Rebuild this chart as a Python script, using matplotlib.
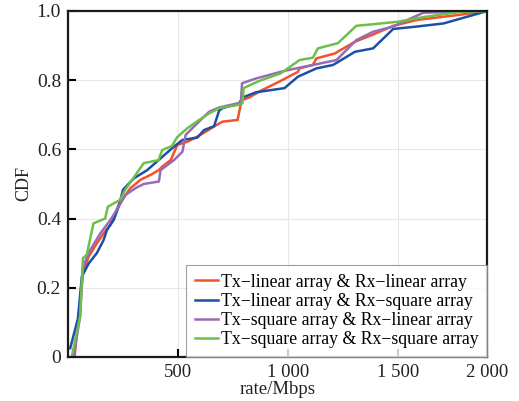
import matplotlib
matplotlib.use("Agg")
import matplotlib.pyplot as plt

plt.rcParams["font.family"] = ["Liberation Serif", "DejaVu Serif"]

# rate (Mbps) / CDF pairs
red_x = [30, 68, 94, 131, 162, 193, 230, 284, 330, 375, 413, 428, 467, 497, 543, 588,
         626, 664, 702, 771, 786, 794, 824, 878, 961, 1045, 1052, 1113, 1129, 1212,
         1304, 1387, 1478, 1585, 1768, 1906]
red_y = [0.0, 0.242, 0.29, 0.328, 0.357, 0.382, 0.439, 0.488, 0.512, 0.526, 0.54, 0.55,
         0.569, 0.613, 0.622, 0.637, 0.651, 0.666, 0.68, 0.685, 0.733, 0.743, 0.75,
         0.77, 0.796, 0.824, 0.834, 0.844, 0.863, 0.877, 0.911, 0.932, 0.957, 0.974,
         0.988, 1.0]

blue_x = [10, 45, 63, 94, 131, 162, 177, 208, 230, 250, 299, 360, 421, 482, 520, 588,
          619, 664, 687, 702, 778, 794, 855, 984, 1045, 1129, 1205, 1304, 1387, 1478,
          1585, 1707, 1906]
blue_y = [0.025, 0.11, 0.232, 0.27, 0.30, 0.338, 0.367, 0.396, 0.434, 0.483, 0.516,
          0.54, 0.574, 0.608, 0.627, 0.634, 0.656, 0.667, 0.712, 0.719, 0.733, 0.75,
          0.765, 0.777, 0.81, 0.834, 0.844, 0.882, 0.892, 0.948, 0.955, 0.964, 1.0]

purple_x = [25, 55, 68, 101, 147, 193, 230, 261, 307, 345, 413, 421, 482, 520, 535,
            565, 611, 642, 687, 771, 786, 791, 855, 984, 1113, 1220, 1311, 1387, 1478,
            1615, 1906]
purple_y = [0.0, 0.116, 0.26, 0.309, 0.357, 0.396, 0.434, 0.468, 0.488, 0.50, 0.507,
            0.54, 0.569, 0.593, 0.642, 0.661, 0.69, 0.709, 0.721, 0.733, 0.736, 0.791,
            0.805, 0.827, 0.844, 0.858, 0.916, 0.94, 0.955, 0.995, 1.0]

green_x = [17, 55, 68, 85, 116, 169, 181, 237, 260, 344, 412, 428, 473, 496, 542, 565,
           596, 642, 687, 771, 793, 798, 862, 968, 1052, 1113, 1136, 1227, 1310, 1501,
           1622, 1780, 1906]
green_y = [0.0, 0.117, 0.285, 0.295, 0.386, 0.40, 0.434, 0.454, 0.483, 0.56, 0.569,
           0.598, 0.61, 0.635, 0.661, 0.671, 0.685, 0.704, 0.719, 0.728, 0.733, 0.777,
           0.796, 0.82, 0.858, 0.865, 0.892, 0.907, 0.957, 0.969, 0.983, 0.997, 1.0]

labels = ["Tx\u2212linear array & Rx\u2212linear array",
          "Tx\u2212linear array & Rx\u2212square array",
          "Tx\u2212square array & Rx\u2212linear array",
          "Tx\u2212square array & Rx\u2212square array"]
colors = ["#f4502a", "#1c4fa6", "#9a6ab8", "#6cc04a"]

x_ticks = [500, 1000, 1500, 1906]
x_ticklabels = ["500", "1 000", "1 500", "2 000"]
y_ticks = [0, 0.2, 0.4, 0.6, 0.8, 1.0]
y_ticklabels = ["0", "0.2", "0.4", "0.6", "0.8", "1.0"]

fig = plt.figure(figsize=(5.19, 4.01), dpi=100)
ax = fig.add_axes([0.131, 0.110, 0.808, 0.8626])

series = [(red_x, red_y), (blue_x, blue_y), (purple_x, purple_y), (green_x, green_y)]
for (xs, ys), c, lab in zip(series, colors, labels):
    ax.plot(xs, ys, color=c, lw=1.8, label=lab)

ax.set_xlim(0, 1906)
ax.set_ylim(0, 1.0)
ax.set_xticks(x_ticks)
ax.set_xticklabels(x_ticklabels, fontsize=13.5, color="#222222")
ax.set_yticks(y_ticks)
ax.set_yticklabels(y_ticklabels, fontsize=14, color="#222222")
ax.tick_params(direction="in", length=6, width=1.5, pad=5)
ax.grid(True, color="#e6e6e6", lw=0.8)
ax.set_axisbelow(True)
for s in ax.spines.values():
    s.set_linewidth(1.6)
    s.set_color("#1a1a1a")

ax.set_xlabel("rate/Mbps", fontsize=13.5, color="#222222", labelpad=0)
ax.set_ylabel("CDF", fontsize=13, color="#222222", labelpad=3)

leg = ax.legend(loc="lower right", fontsize=12.8, frameon=True, fancybox=False,
                borderaxespad=0, borderpad=0.5, labelspacing=0.12,
                handlelength=1.3, handletextpad=0.15)
leg.get_frame().set_edgecolor("#888888")
leg.get_frame().set_linewidth(0.8)

fig.savefig("out.png", dpi=100)
